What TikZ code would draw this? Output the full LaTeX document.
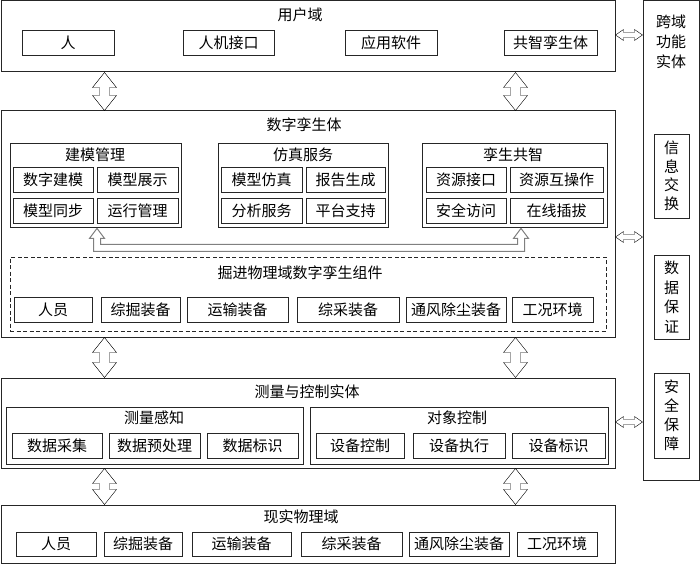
\documentclass[tikz,border=0pt]{standalone}
\usepackage{fontspec}
\setmainfont{Noto Sans CJK SC}
\usetikzlibrary{calc}
\tikzset{
  bxs/.style={draw=black!85, line width=0.8pt, inner sep=0pt, font=\fontsize{15}{17}\selectfont},
  outer/.style={bxs, line width=1pt},
  dashbox/.style={bxs, dash pattern=on 4pt off 2.5pt},
  ttl/.style={inner sep=0pt, font=\fontsize{15}{17}\selectfont},
  dbv/.style={draw=black!85, line width=0.7pt, to path={let \p1=(\tikztostart), \p2=(\tikztotarget) in
    (\x1,\y1) -- (\x1+12pt,\y1-15pt) -- (\x1+5pt,\y1-15pt) -- (\x1+5pt,\y2+15pt) -- (\x1+12pt,\y2+15pt)
    -- (\x1,\y2) -- (\x1-12pt,\y2+15pt) -- (\x1-5pt,\y2+15pt) -- (\x1-5pt,\y1-15pt) -- (\x1-12pt,\y1-15pt) -- cycle}},
  dbh/.style={draw=black!85, line width=0.7pt, to path={let \p1=(\tikztostart), \p2=(\tikztotarget) in
    (\x1,\y1) -- (\x1+8pt,\y1+5.5pt) -- (\x1+8pt,\y1+2.5pt) -- (\x2-8pt,\y1+2.5pt) -- (\x2-8pt,\y1+5.5pt)
    -- (\x2,\y1) -- (\x2-8pt,\y1-5.5pt) -- (\x2-8pt,\y1-2.5pt) -- (\x1+8pt,\y1-2.5pt) -- (\x1+8pt,\y1-5.5pt) -- cycle}},
  grayconn/.style={draw=black!50, line width=1pt}
}
\newcommand\bx[7][]{\node[bxs,#1, minimum width={#5pt-#3pt}, minimum height={#6pt-#4pt}] (#2) at ({(#3+#5)/2},{(#4+#6)/2}) {#7};}
\begin{document}
\begin{tikzpicture}[x=1pt,y=-1pt]
\useasboundingbox (0,0) rectangle (700,564);
% user domain
\bx[outer]{ud}{1}{1}{615}{72}{}
\node[ttl] (udt) at (300,15) {用户域};
\bx{u1}{22}{30}{114}{55}{人}
\bx{u2}{183}{30}{274}{55}{人机接口}
\bx{u3}{345}{30}{437}{55}{应用软件}
\bx{u4}{504}{30}{597}{55}{共智孪生体}
% right column
\bx[outer]{rc}{643}{1}{699}{480}{}
\node[ttl, align=center, font=\fontsize{15}{20}\selectfont] (rct) at (671,42) {跨域\\功能\\实体};
\bx[align=center, font=\fontsize{15}{18.5}\selectfont]{r1}{654}{134}{689}{218}{信\\息\\交\\换}
\bx[align=center, font=\fontsize{15}{19.5}\selectfont]{r2}{654}{255}{689}{339}{数\\据\\保\\证}
\bx[align=center, font=\fontsize{15}{19}\selectfont]{r3}{654}{373}{689}{458}{安\\全\\保\\障}
% digital twin
\bx[outer]{dt}{1}{111}{615}{337}{}
\node[ttl] (dtt) at (304,125) {数字孪生体};
\bx{g1}{10}{143}{181}{227}{}
\node[ttl] (g1t) at (95,155) {建模管理};
\bx{g1a}{13}{167}{93}{192}{数字建模}
\bx{g1b}{97}{167}{178}{192}{模型展示}
\bx{g1c}{13}{198}{93}{223}{模型同步}
\bx{g1d}{97}{198}{178}{223}{运行管理}
\bx{g2}{218}{143}{388}{227}{}
\node[ttl] (g2t) at (303,155) {仿真服务};
\bx{g2a}{221}{167}{302}{192}{模型仿真}
\bx{g2b}{306}{167}{385}{192}{报告生成}
\bx{g2c}{221}{198}{302}{223}{分析服务}
\bx{g2d}{306}{198}{385}{223}{平台支持}
\bx{g3}{422}{143}{607}{227}{}
\node[ttl] (g3t) at (513,155) {孪生共智};
\bx{g3a}{426}{167}{506}{192}{资源接口}
\bx{g3b}{510}{167}{603}{192}{资源互操作}
\bx{g3c}{426}{198}{506}{223}{安全访问}
\bx{g3d}{510}{198}{603}{223}{在线插拔}
% dashed group
\bx[dashbox]{dg}{10}{257}{606}{331}{}
\node[ttl] (dgt) at (300,273) {掘进物理域数字孪生组件};
\bx{d1}{14}{297}{92}{322}{人员}
\bx{d2}{101}{297}{180}{322}{综掘装备}
\bx{d3}{187}{297}{288}{322}{运输装备}
\bx{d4}{297}{297}{399}{322}{综采装备}
\bx{d5}{406}{297}{506}{322}{通风除尘装备}
\bx{d6}{512}{297}{593}{322}{工况环境}
% measurement and control
\bx[outer]{mc}{1}{378}{615}{468}{}
\node[ttl] (mct) at (307,392) {测量与控制实体};
\bx{m1}{6}{407}{303}{464}{}
\node[ttl] (m1t) at (154,418) {测量感知};
\bx{m1a}{12}{433}{102}{458}{数据采集}
\bx{m1b}{109}{433}{200}{458}{数据预处理}
\bx{m1c}{207}{433}{298}{458}{数据标识}
\bx{m2}{310}{407}{608}{464}{}
\node[ttl] (m2t) at (457,418) {对象控制};
\bx{m2a}{316}{433}{404}{458}{设备控制}
\bx{m2b}{413}{433}{505}{458}{设备执行}
\bx{m2c}{512}{433}{605}{458}{设备标识}
% real physical domain
\bx[outer]{rw}{1}{505}{615}{563}{}
\node[ttl] (rwt) at (301,517) {现实物理域};
\bx{w1}{16}{532}{96}{556}{人员}
\bx{w2}{104}{532}{182}{556}{综掘装备}
\bx{w3}{192}{532}{291}{556}{运输装备}
\bx{w4}{301}{532}{402}{556}{综采装备}
\bx{w5}{409}{532}{509}{556}{通风除尘装备}
\bx{w6}{517}{532}{597}{556}{工况环境}
% vertical double arrows
\draw ([xshift=104pt]ud.south west) to[dbv] ([xshift=104pt]dt.north west);
\draw ([xshift=515pt]ud.south west) to[dbv] ([xshift=515pt]dt.north west);
\draw ([xshift=104pt]dt.south west) to[dbv] ([xshift=104pt]mc.north west);
\draw ([xshift=515pt]dt.south west) to[dbv] ([xshift=515pt]mc.north west);
\draw ([xshift=104pt]mc.south west) to[dbv] ([xshift=104pt]rw.north west);
\draw ([xshift=515pt]mc.south west) to[dbv] ([xshift=515pt]rw.north west);
% horizontal double arrows
\draw ([yshift=1.5pt]ud.east) to[dbh] (rc.west);
\draw ([yshift=-13pt]dt.east) to[dbh] (rc.west);
\draw ([yshift=1pt]mc.east) to[dbh] (rc.west);
% gray connector between g1 and g3
\draw[grayconn] let \p1=([xshift=1.5pt,yshift=-1pt]g1.south), \p2=([xshift=6.5pt,yshift=-1pt]g3.south) in
  (\x1,\y1) -- (\x1+7.5pt,\y1-10pt) -- (\x1+3.5pt,\y1-10pt) -- (\x1+3.5pt,\y1-16pt) -- (\x2-3.5pt,\y1-16pt)
  -- (\x2-3.5pt,\y1-10pt) -- (\x2-7.5pt,\y1-10pt) -- (\x2,\y1) -- (\x2+7.5pt,\y1-10pt) -- (\x2+3.5pt,\y1-10pt)
  -- (\x2+3.5pt,\y1-23pt) -- (\x1-3.5pt,\y1-23pt) -- (\x1-3.5pt,\y1-10pt) -- (\x1-7.5pt,\y1-10pt) -- cycle;
\end{tikzpicture}
\end{document}
